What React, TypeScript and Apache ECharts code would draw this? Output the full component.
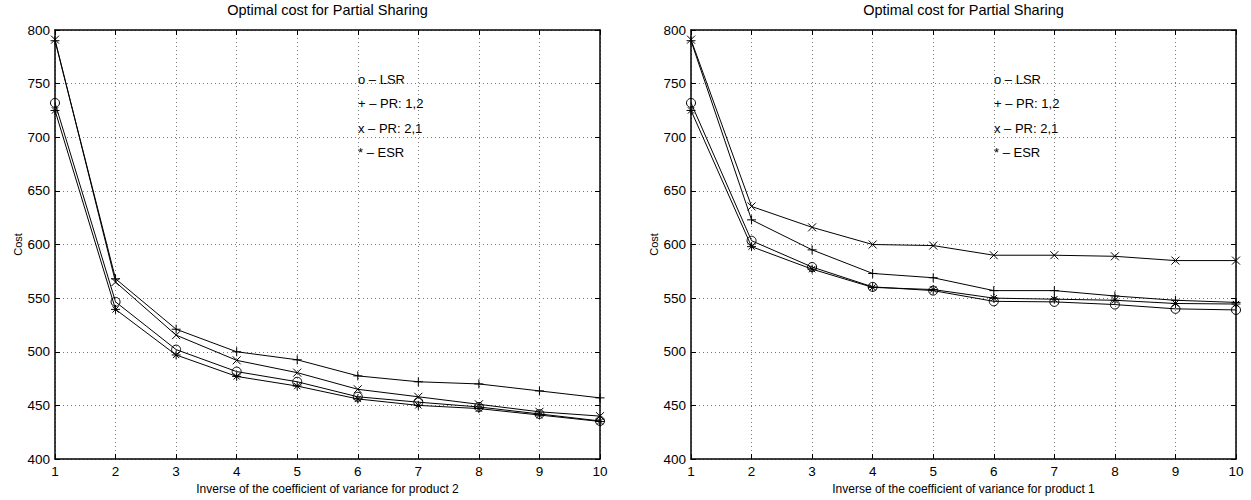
import React, { useEffect, useRef } from "react";
import * as echarts from "echarts";

const xValues = [1, 2, 3, 4, 5, 6, 7, 8, 9, 10];

// Left chart: product 2
const leftLSR = [732, 546.5, 502, 481.5, 472, 458, 453, 448.5, 442, 435.5];
const leftPR12 = [790, 568, 521, 500, 492.5, 477.5, 472, 470, 463.5, 457];
const leftPR21 = [791, 565, 515.5, 492, 480.5, 465, 458, 451, 444, 440];
const leftESR = [725, 539.5, 497, 477, 468, 456, 450, 447, 441, 435];

// Right chart: product 1
const rightLSR = [732, 603.5, 579, 560.5, 557, 547, 546.5, 544, 540, 539];
const rightPR12 = [790, 623, 595, 573, 569, 557, 557, 552, 548, 546];
const rightPR21 = [791, 635.5, 616, 600, 599, 590, 590, 589, 585, 585];
const rightESR = [725, 598, 577, 560, 558, 550, 549, 548, 545, 544.5];

const titleText = "Optimal cost for Partial Sharing";
const yTitle = "Cost";
const leftXTitle = "Inverse of the coefficient of variance for product 2";
const rightXTitle = "Inverse of the coefficient of variance for product 1";
const legendLines = ["o \u2013 LSR", "+ \u2013 PR: 1,2", "x \u2013 PR: 2,1", "* \u2013 ESR"];

const FONT = "Liberation Sans, Arial, sans-serif";

const SYM_PLUS = "path://M5,0L5,10M0,5L10,5";
const SYM_X = "path://M0,0L10,10M10,0L0,10";
const SYM_STAR = "path://M5,0L5,10M0,5L10,5M1.5,1.5L8.5,8.5M8.5,1.5L1.5,8.5";

const grids = [
  { left: 55, right: 651, top: 30, bottom: 40 },
  { left: 691, right: 15, top: 30, bottom: 40 },
];

function mkSeries(gi: number, data: number[], symbol: string, size: number) {
  return {
    type: "line",
    xAxisIndex: gi * 2,
    yAxisIndex: gi * 2,
    data: xValues.map((x, i) => [x, data[i]]),
    symbol,
    symbolSize: size,
    showSymbol: true,
    lineStyle: { color: "#000", width: 1 },
    itemStyle: { color: "rgba(0,0,0,0)", borderColor: "#000", borderWidth: 1 },
    emphasis: { disabled: true },
    z: 3,
  };
}

export default function App() {
  const ref = useRef<HTMLDivElement>(null);
  useEffect(() => {
    document.body.style.margin = "0";
    const chart = echarts.init(ref.current!, null, { renderer: "svg" });
    const xAxes: any[] = [];
    const yAxes: any[] = [];
    const boxLine = { show: true, onZero: false, lineStyle: { color: "#000", width: 1.5 } };
    const tick = { show: true, inside: true, length: 5, lineStyle: { color: "#000" } };
    const split = { show: true, lineStyle: { color: "#777", type: [1, 3], width: 1 } };
    grids.forEach((_, gi) => {
      xAxes.push({
        type: "value",
        gridIndex: gi,
        min: 1,
        max: 10,
        interval: 1,
        position: "bottom",
        name: gi === 0 ? leftXTitle : rightXTitle,
        nameLocation: "middle",
        nameGap: 24,
        nameTextStyle: { color: "#000", fontFamily: FONT, fontSize: 12 },
        axisLine: boxLine,
        axisTick: tick,
        axisLabel: { color: "#000", fontFamily: FONT, fontSize: 13.5, margin: 5 },
        splitLine: split,
      });
      xAxes.push({
        type: "value",
        gridIndex: gi,
        min: 1,
        max: 10,
        interval: 1,
        position: "top",
        axisLine: boxLine,
        axisTick: tick,
        axisLabel: { show: false },
        splitLine: { show: false },
      });
      yAxes.push({
        type: "value",
        gridIndex: gi,
        min: 400,
        max: 800,
        interval: 50,
        position: "left",
        name: yTitle,
        nameLocation: "middle",
        nameGap: 31,
        nameRotate: 90,
        nameTextStyle: { color: "#000", fontFamily: FONT, fontSize: 11 },
        axisLine: boxLine,
        axisTick: tick,
        axisLabel: { color: "#000", fontFamily: FONT, fontSize: 13.5, margin: 5 },
        splitLine: split,
      });
      yAxes.push({
        type: "value",
        gridIndex: gi,
        min: 400,
        max: 800,
        interval: 50,
        position: "right",
        axisLine: boxLine,
        axisTick: tick,
        axisLabel: { show: false },
        splitLine: { show: false },
      });
    });

    const graphics: any[] = [];
    grids.forEach((g) => {
      const plotLeft = g.left;
      const plotRight = 1251 - g.right;
      graphics.push({
        type: "text",
        x: (plotLeft + plotRight) / 2,
        y: 10,
        style: {
          text: titleText,
          fill: "#000",
          font: `14.5px ${FONT}`,
          textAlign: "center",
          textVerticalAlign: "middle",
        },
      });
      legendLines.forEach((t, i) => {
        graphics.push({
          type: "text",
          x: plotLeft + 303,
          y: 79 + i * 24.5,
          style: {
            text: t,
            fill: "#000",
            font: `13px ${FONT}`,
            textAlign: "left",
            textVerticalAlign: "middle",
          },
        });
      });
    });

    chart.setOption({
      animation: false,
      backgroundColor: "#fff",
      grid: grids,
      xAxis: xAxes,
      yAxis: yAxes,
      graphic: graphics,
      series: [
        mkSeries(0, leftLSR, "circle", 9),
        mkSeries(0, leftPR12, SYM_PLUS, 9),
        mkSeries(0, leftPR21, SYM_X, 8),
        mkSeries(0, leftESR, SYM_STAR, 9),
        mkSeries(1, rightLSR, "circle", 9),
        mkSeries(1, rightPR12, SYM_PLUS, 9),
        mkSeries(1, rightPR21, SYM_X, 8),
        mkSeries(1, rightESR, SYM_STAR, 9),
      ],
    });
    return () => chart.dispose();
  }, []);
  return <div ref={ref} style={{ width: 1251, height: 500 }} />;
}
